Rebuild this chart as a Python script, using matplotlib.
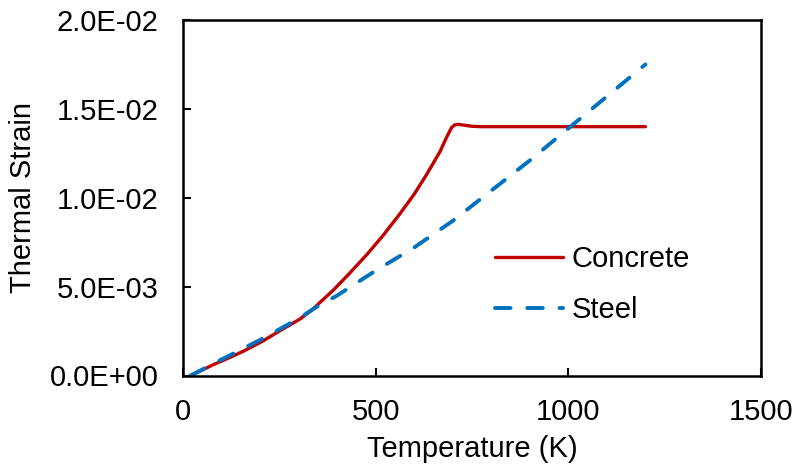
import matplotlib.pyplot as plt
import matplotlib.ticker as mticker

plt.rcParams['font.family'] = ['Liberation Sans', 'DejaVu Sans']

# values
concrete_T = [20, 80, 120, 160, 208, 250, 304, 340, 390, 430, 477, 520, 563,
              600, 632, 667, 684, 697, 705, 715, 730, 750, 775, 1200]
concrete_strain = [0.0, 0.00062, 0.001, 0.0014, 0.00195, 0.0025, 0.00318,
                   0.0038, 0.0048, 0.0057, 0.0068, 0.0079, 0.0091, 0.0102,
                   0.0113, 0.0126, 0.0134, 0.01395, 0.0141, 0.01413, 0.01408,
                   0.01402, 0.0140, 0.0140]

steel_T = [20, 100, 150, 200, 250, 300, 350, 400, 450, 500, 550, 600, 650,
           700, 750, 800, 850, 900, 950, 1000, 1050, 1100, 1150, 1200]
steel_strain = [0.0, 0.0009, 0.00145, 0.002, 0.0026, 0.0032, 0.0039, 0.0045,
                0.0052, 0.0059, 0.00655, 0.0072, 0.00795, 0.0087, 0.00955,
                0.0104, 0.01125, 0.0121, 0.0130, 0.0139, 0.0148, 0.0157,
                0.0166, 0.0175]

xticks = [0, 500, 1000, 1500]
yticks = [0.0, 0.005, 0.01, 0.015, 0.02]

fs = 21

fig = plt.figure(figsize=(7.95, 4.67), dpi=100)
ax = fig.add_axes([183 / 795, 1 - 375.5 / 467, 578 / 795, 355.5 / 467])

ax.plot(concrete_T, concrete_strain, color='#C00000', lw=2.4,
        solid_capstyle='round', solid_joinstyle='round', label='Concrete')
ax.plot(steel_T, steel_strain, color='#0070C0', lw=2.8, dashes=(4.0, 4.3),
        dash_capstyle='round', label='Steel')

ax.set_xlim(0, 1500)
ax.set_ylim(0, 0.02)
ax.set_xticks(xticks)
ax.set_yticks(yticks)
ax.yaxis.set_major_formatter(mticker.FuncFormatter(lambda v, p: '%.1E' % v))
ax.tick_params(direction='in', length=6, width=1.5, labelsize=fs)
ax.tick_params(axis='y', pad=17.5)
ax.tick_params(axis='x', pad=16)
for s in ax.spines.values():
    s.set_linewidth(1.8)

ax.set_xlabel('Temperature (K)', fontsize=fs, labelpad=7)
ax.set_ylabel('Thermal Strain', fontsize=fs, labelpad=9)

ax.legend(loc='center left', bbox_to_anchor=(0.54, 0.2555), frameon=False,
          fontsize=fs, handlelength=2.33, handletextpad=0.3,
          labelspacing=0.81, borderpad=0, borderaxespad=0)

fig.savefig('out.png', dpi=100)
